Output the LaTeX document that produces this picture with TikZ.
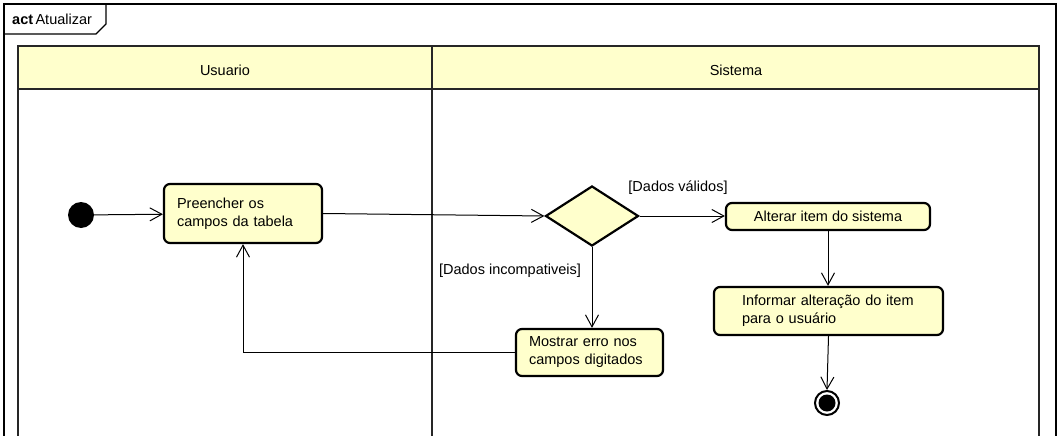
\documentclass[tikz,border=0pt]{standalone}
\usepackage{fontspec}
\setmainfont{Liberation Sans}
\usetikzlibrary{positioning,arrows.meta,shapes.geometric}
\definecolor{actfill}{RGB}{255,255,204}

\begin{document}
\begin{tikzpicture}[x=1pt, y=-1pt,
			font=\fontsize{14.5}{18}\selectfont,
			act/.style={draw, fill=actfill, rounded corners=6pt, line width=2.2pt, align=left, inner ysep=4pt},
			lane/.style={draw=black!85, line width=2pt},
			flow/.style={-{Straight Barb[length=12pt, width=13pt]}, line width=1pt}]
\useasboundingbox (0,0) rectangle (1057,436);
\draw[line width=1.3pt] (4,440) -- (4,4) -- (1056,4) -- (1056,440);
\draw[line width=1.3pt] (4,34) -- (96,34) -- (106,24) -- (106,4);
\node[anchor=west, inner sep=0pt] (frame) at (12,19) {\textbf{act}\,Atualizar};

\filldraw[lane, fill=actfill] (18,46) rectangle (432,89);
\filldraw[lane, fill=actfill] (432,46) rectangle (1039,89);
\draw[lane] (18,89) -- (18,440);
\draw[lane] (432,89) -- (432,440);
\draw[lane] (1039,89) -- (1039,440);
\node (usuario) at (225,70) {Usuario};
\node (sistema) at (736,70) {Sistema};

\node[circle, fill=black, minimum size=26pt, inner sep=0pt] (inicio) at (81,215) {};
\node[act, text width=132pt, inner xsep=13pt, minimum height=59pt] (preencher) at (243,213.5) {Preencher os\\campos da tabela};
\node[diamond, draw, fill=actfill, line width=2.2pt, minimum width=93pt, minimum height=60pt, inner sep=0pt] (decisao) at (592,216) {};
\node[act, align=center, minimum width=204pt, minimum height=27pt, inner sep=0pt] (alterar) at (828,216.5) {Alterar item do sistema};
\node[act, text width=173pt, inner xsep=28pt, minimum height=48pt] (informar) at (828.5,311) {Informar alteração do item\\para o usuário};
\node[act, text width=121pt, inner xsep=13pt, minimum height=47pt] (mostrar) at (589.5,352.5) {Mostrar erro nos\\campos digitados};
\node[circle, draw, line width=2pt, minimum size=24pt, inner sep=0pt] (fim) at (827,403) {};
\fill (fim) circle (8.5pt);

\node (validos) at (678,188) {[Dados válidos]};
\node (incompativeis) at (510,271) {[Dados incompativeis]};

\draw[flow] (inicio) -- (preencher);
\draw[flow] (preencher.east) -- (decisao.west);
\draw[flow] (decisao.east) -- (alterar.west |- decisao.east);
\draw[flow] (decisao.south) -- (decisao.south |- mostrar.north);
\draw[flow] (mostrar.west) -| (preencher.south);
\draw[flow] (alterar.south) -- (alterar.south |- informar.north);
\draw[flow] (informar.south) -- (fim.north);
\end{tikzpicture}
\end{document}
